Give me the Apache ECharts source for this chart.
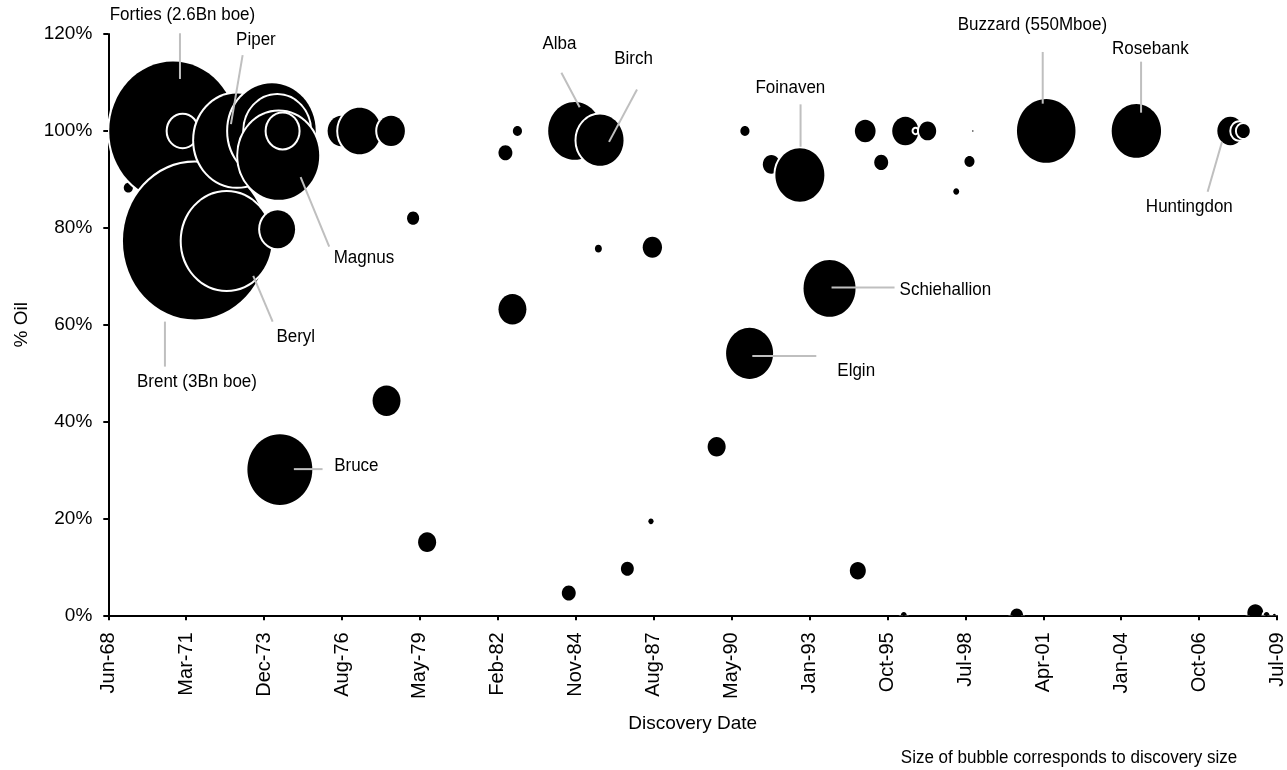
<!DOCTYPE html>
<html>
<head>
<meta charset="utf-8">
<script src="https://cdn.jsdelivr.net/npm/echarts@6/dist/echarts.min.js"></script>
<style>
  html, body { margin: 0; padding: 0; background: #fff; }
  #chart { width: 1287px; height: 770px; }
</style>
</head>
<body>
<div id="chart"></div>
<script>
// ---------------- DATA ----------------
// Discovery date of each field (chronological = drawing order)
const discoveryDates = [
  '1969-02-23','1970-09-19','1971-01-21','1971-06-28','1972-08-08','1972-12-18',
  '1974-03-12','1974-05-19','1974-05-24','1974-06-07','1974-06-22','1974-07-27',
  '1976-08-22','1977-04-10','1978-03-22','1978-05-19','1979-02-26','1979-08-25',
  '1982-05-26','1982-08-24','1982-10-27','1984-08-16','1984-10-31','1985-08-31',
  '1985-09-21','1986-09-07','1987-07-07','1987-07-25','1989-10-27','1990-10-25',
  '1990-12-24','1991-09-29','1992-09-29','1993-10-15','1994-10-13','1995-01-16',
  '1995-08-09','1996-05-25','1996-06-14','1996-10-23','1997-03-26','1998-03-29',
  '1998-09-15','1998-10-28','2000-05-14','2001-05-27','2004-07-27','2007-11-15',
  '2008-03-09','2008-04-30','2008-10-01','2009-02-22','2009-06-02'
];
// % oil
const oilPercent = [
  88.3, 100, 100, 77.3, 77.3, 98.1,
  100, 100, 79.7, 94.9, 30.1, 100,
  100, 100, 44.3, 100, 82.0, 15.1,
  95.5, 63.2, 100, 4.6, 100, 75.7,
  98.1, 9.6, 19.4, 76.0, 34.8, 100,
  54.1, 93.1, 90.9, 67.5, 9.2, 100,
  93.5, 0, 100, 100, 100, 87.5,
  93.7, 100, 0, 100, 100, 100,
  100, 100, 0.5, 0, 0
];
// discovery size (Mboe) -> bubble area
const discoverySize = [
  12, 2350, 130, 3000, 1170, 1060,
  1110, 630, 177, 950, 610, 148,
  113, 264, 113, 111, 21, 47,
  28, 113, 12, 28, 406, 7,
  320, 24, 4, 54, 47, 12,
  320, 42, 347, 391, 37, 62,
  28, 5, 100, 2.3, 43, 5,
  14.5, 0.3, 23, 495, 352, 98,
  37, 24, 37, 5, 1.3
];
// labels of named fields ('' = unlabelled)
const fieldLabels = [
  '', 'Forties (2.6Bn boe)', '', 'Brent (3Bn boe)', 'Beryl', 'Piper',
  '', '', '', 'Magnus', 'Bruce', '',
  '', '', '', '', '', '',
  '', '', '', '', 'Alba', '',
  'Birch', '', '', '', '', '',
  'Elgin', '', 'Foinaven', 'Schiehallion', '', '',
  '', '', '', '', '', '',
  '', '', '', 'Buzzard (550Mboe)', 'Rosebank', 'Huntingdon',
  '', '', '', '', ''
];
const yTickFormat = '{value}%';
const MONTHS = ['Jan','Feb','Mar','Apr','May','Jun','Jul','Aug','Sep','Oct','Nov','Dec'];
const xTitle = 'Discovery Date';
const yTitle = '% Oil';
const footnote = 'Size of bubble corresponds to discovery size';

// ---------------- STYLE / LAYOUT ----------------
const FONT = '"Liberation Sans", Arial, sans-serif';
const BUBBLE_PX = 2.629;     // bubble width per sqrt(Mboe)
const BUBBLE_ASPECT = 1.09;  // height / width
const TEXT_STRETCH = 1.1;    // vertical stretch of annotation text
// label placement relative to bubble centre: text centre (or left), leader line
const labelLayout = {
  'Forties (2.6Bn boe)': { t: [9.5, -116], l: [7, -97.7, 7, -52] },
  'Piper':   { t: [19, -100.7], l: [5.7, -85, -6, -16] },
  'Magnus':  { t: [85.2, 101.9], l: [50.5, 90.9, 21.9, 21.5] },
  'Beryl':   { t: [69.1, 95.7], l: [46, 80.7, 26.6, 35] },
  'Brent (3Bn boe)': { t: [2, 140.7], l: [-30, 80.7, -30, 125.7] },
  'Bruce':   { t: [54.3, -3.7], l: [14, -0.4, 42.7, -0.4], align: 'left' },
  'Alba':    { t: [-15.3, -86.7], l: [-13.3, -58.3, 5, -23.7] },
  'Birch':   { t: [33.5, -81], l: [37, -50.7, 9, 1.7] },
  'Foinaven':{ t: [-9.5, -87.3], l: [0.7, -70.7, 0.7, -28.3] },
  'Schiehallion': { t: [70, 1.7], l: [2, -1, 65, -1], align: 'left' },
  'Elgin':   { t: [87.7, 17.7], l: [2.7, 2.7, 66.7, 2.7], align: 'left' },
  'Buzzard (550Mboe)': { t: [-13.8, -106.3], l: [-3.5, -79, -3.5, -27.3] },
  'Rosebank':{ t: [14, -82], l: [4.7, -69.3, 4.7, -18.3] },
  'Huntingdon': { t: [-41, 75.7], l: [-22.7, 60.7, -8.3, 10.7] }
};

// ---------------- BUILD ----------------
function toSerial(s) {
  const p = s.split('-').map(Number);
  return (Date.UTC(p[0], p[1] - 1, p[2]) - Date.UTC(1899, 11, 30)) / 864e5;
}
function serialLabel(v) {
  const d = new Date(Date.UTC(1899, 11, 30) + v * 864e5);
  return MONTHS[d.getUTCMonth()] + '-' + String(d.getUTCFullYear() % 100).padStart(2, '0');
}
const bubbleData = discoveryDates.map((d, i) => [toSerial(d), oilPercent[i], discoverySize[i]]);
const labelIdx = fieldLabels.map((n, i) => n ? i : -1).filter(i => i >= 0);
const labelData = labelIdx.map(i => [toSerial(discoveryDates[i]), oilPercent[i]]);

const chart = echarts.init(document.getElementById('chart'), null, { renderer: 'canvas' });
chart.setOption({
  animation: false,
  backgroundColor: '#fff',
  textStyle: { fontFamily: FONT },
  grid: { left: 108.3, right: 9.3, top: 34.1, bottom: 154.7, containLabel: false },
  xAxis: {
    type: 'value', min: 25000, max: 40000, interval: 1000,
    name: xTitle, nameLocation: 'middle', nameGap: 99,
    nameTextStyle: { fontSize: 19, color: '#000', fontFamily: FONT },
    axisLine: { show: true, onZero: false, lineStyle: { color: '#000', width: 2 } },
    axisTick: { show: true, length: 5, lineStyle: { color: '#000', width: 2 } },
    axisLabel: { rotate: 90, margin: 17, fontSize: 20, color: '#000', fontFamily: FONT, formatter: serialLabel },
    splitLine: { show: false }
  },
  yAxis: {
    type: 'value', min: 0, max: 120, interval: 20,
    name: yTitle, nameLocation: 'middle', nameGap: 77, nameRotate: 90,
    nameTextStyle: { fontSize: 19, color: '#000', fontFamily: FONT },
    axisLine: { show: true, lineStyle: { color: '#000', width: 2 } },
    axisTick: { show: true, length: 5, lineStyle: { color: '#000', width: 2 } },
    axisLabel: { margin: 16, fontSize: 19, color: '#000', fontFamily: FONT, formatter: yTickFormat },
    splitLine: { show: false }
  },
  graphic: [{
    type: 'text', x: 1069, y: 758, scaleY: TEXT_STRETCH,
    style: { text: footnote, fill: '#000', fontSize: 17, fontFamily: FONT, align: 'center', verticalAlign: 'middle' }
  }],
  series: [
    {
      type: 'custom', name: 'fields', clip: true, z: 3,
      encode: { x: 0, y: 1 },
      data: bubbleData,
      renderItem: function (params, api) {
        const c = api.coord([api.value(0), api.value(1)]);
        const rx = BUBBLE_PX * Math.sqrt(api.value(2)) / 2;
        return {
          type: 'ellipse',
          shape: { cx: c[0], cy: c[1], rx: rx, ry: rx * BUBBLE_ASPECT },
          style: { fill: '#000', stroke: '#fff', lineWidth: 4, strokeFirst: true }
        };
      }
    },
    {
      type: 'custom', name: 'labels', clip: false, z: 5,
      encode: { x: 0, y: 1 },
      data: labelData,
      renderItem: function (params, api) {
        const c = api.coord([api.value(0), api.value(1)]);
        const name = fieldLabels[labelIdx[params.dataIndex]];
        const L = labelLayout[name];
        return {
          type: 'group',
          children: [
            { type: 'line',
              shape: { x1: c[0] + L.l[0], y1: c[1] + L.l[1], x2: c[0] + L.l[2], y2: c[1] + L.l[3] },
              style: { stroke: '#bfbfbf', lineWidth: 2 } },
            { type: 'text', x: c[0] + L.t[0], y: c[1] + L.t[1], scaleY: TEXT_STRETCH,
              style: { text: name, fill: '#000', fontSize: 17, fontFamily: FONT,
                       align: L.align || 'center', verticalAlign: 'middle' } }
          ]
        };
      }
    }
  ]
});
</script>
</body>
</html>
